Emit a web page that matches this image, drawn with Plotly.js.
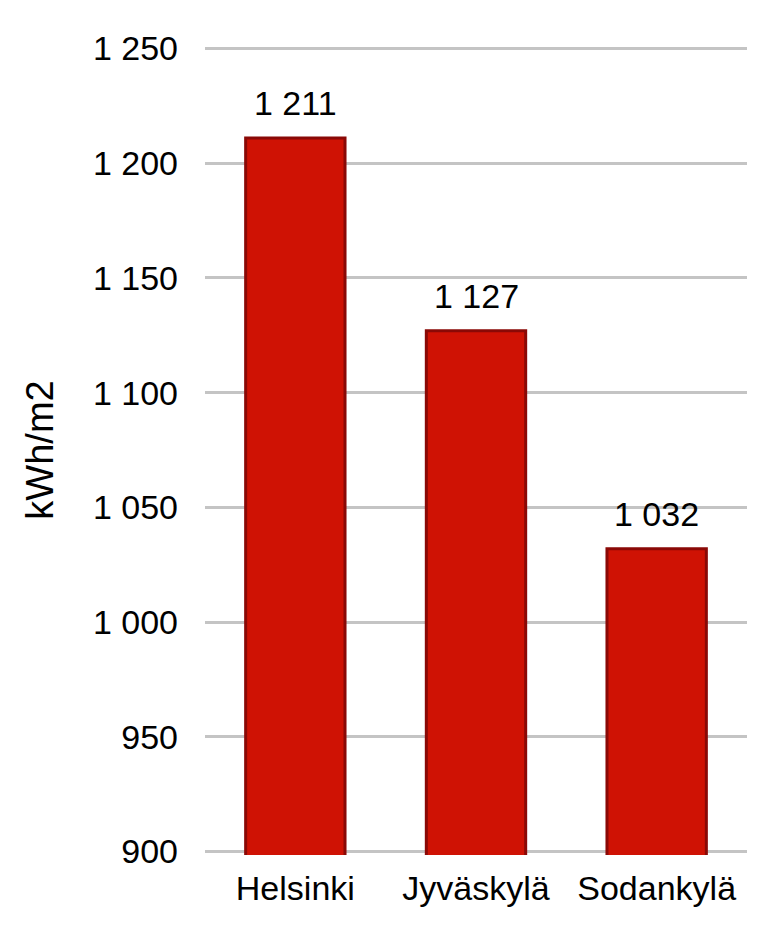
<!DOCTYPE html>
<html><head><meta charset="utf-8">
<script src="https://cdn.plot.ly/plotly-3.0.1.min.js"></script>
<style>html,body{margin:0;padding:0;background:#fff}</style>
</head><body>
<div id="chart" style="width:774px;height:925px"></div>
<script>
const cities = ['Helsinki', 'Jyväskylä', 'Sodankylä'];
const irradiation = [1211, 1127, 1032];
const yTicks = [900, 950, 1000, 1050, 1100, 1150, 1200, 1250];

const fontFam = 'Liberation Sans, Arial, sans-serif';
const fmt = v => String(v).replace(/\B(?=(\d{3})+(?!\d))/g, ' ');

Plotly.newPlot('chart', [{
  type: 'bar',
  x: cities,
  y: irradiation,
  width: 0.55,
  marker: {color: '#cf1204', line: {color: '#8a0906', width: 3}},
  hoverinfo: 'none'
}], {
  width: 774, height: 925,
  margin: {l: 205, r: 27, t: 45, b: 70},
  separators: ', ',
  paper_bgcolor: '#fff', plot_bgcolor: '#fff',
  showlegend: false,
  font: {family: fontFam, color: '#000'},
  annotations: cities.map((c, i) => ({
    x: c, y: irradiation[i], xref: 'x', yref: 'y',
    text: fmt(irradiation[i]), showarrow: false,
    yanchor: 'bottom', yshift: 14,
    font: {family: fontFam, size: 34, color: '#000'}
  })),
  xaxis: {
    tickfont: {family: fontFam, size: 34, color: '#000'},
    showgrid: false, zeroline: false, showline: false, ticks: '',
    ticklabelstandoff: 10
  },
  yaxis: {
    range: [898.5, 1251.5],
    tickvals: yTicks,
    tickformat: ',d',
    separatethousands: true,
    tickfont: {family: fontFam, size: 34, color: '#000'},
    gridcolor: '#c4c4c4', gridwidth: 3,
    zeroline: false, showline: false, ticks: '',
    ticklabelstandoff: 26,
    title: {text: 'kWh/m2', font: {family: fontFam, size: 38, color: '#000'}, standoff: 27}
  }
}, {staticPlot: true});
</script>
</body></html>
